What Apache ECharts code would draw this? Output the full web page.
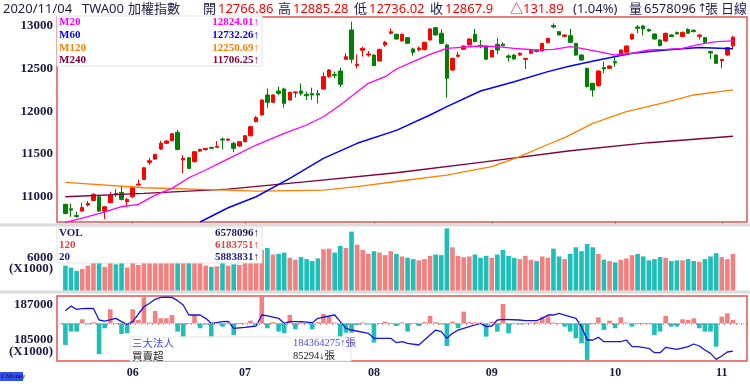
<!DOCTYPE html>
<html><head><meta charset="utf-8">
<script src="https://cdn.jsdelivr.net/npm/echarts@6/dist/echarts.min.js"></script>
<style>html,body{margin:0;padding:0;background:#fff}#c{width:750px;height:391px}</style>
</head><body><div id="c"></div>
<script>
// ---- data ----
const dates = [
'2020-05-14','2020-05-15','2020-05-18','2020-05-19','2020-05-20','2020-05-21','2020-05-22','2020-05-25','2020-05-26','2020-05-27','2020-05-28','2020-05-29',
'2020-06-01','2020-06-02','2020-06-03','2020-06-04','2020-06-05','2020-06-08','2020-06-09','2020-06-10','2020-06-11','2020-06-12','2020-06-15','2020-06-16','2020-06-17','2020-06-18','2020-06-19','2020-06-22','2020-06-23','2020-06-24','2020-06-29','2020-06-30',
'2020-07-01','2020-07-02','2020-07-03','2020-07-06','2020-07-07','2020-07-08','2020-07-09','2020-07-10','2020-07-13','2020-07-14','2020-07-15','2020-07-16','2020-07-17','2020-07-20','2020-07-21','2020-07-22','2020-07-23','2020-07-24','2020-07-27','2020-07-28','2020-07-29','2020-07-30','2020-07-31',
'2020-08-03','2020-08-04','2020-08-05','2020-08-06','2020-08-07','2020-08-10','2020-08-11','2020-08-12','2020-08-13','2020-08-14','2020-08-17','2020-08-18','2020-08-19','2020-08-20','2020-08-21','2020-08-24','2020-08-25','2020-08-26','2020-08-27','2020-08-28','2020-08-31',
'2020-09-01','2020-09-02','2020-09-03','2020-09-04','2020-09-07','2020-09-08','2020-09-09','2020-09-10','2020-09-11','2020-09-14','2020-09-15','2020-09-16','2020-09-17','2020-09-18','2020-09-21','2020-09-22','2020-09-23','2020-09-24','2020-09-25','2020-09-28','2020-09-29','2020-09-30',
'2020-10-05','2020-10-06','2020-10-07','2020-10-08','2020-10-12','2020-10-13','2020-10-14','2020-10-15','2020-10-16','2020-10-19','2020-10-20','2020-10-21','2020-10-22','2020-10-23','2020-10-26','2020-10-27','2020-10-28','2020-10-29','2020-10-30',
'2020-11-02','2020-11-03','2020-11-04'];
const opens = [10906,10855,10775,10828,10899,10953,10996,10828,10926,11036,11047,10938,10996,11133,11200,11399,11439,11556,11623,11654,11752,11427,11454,11407,11532,11548,11576,11576,11673,11660,
11623,11591,11642,11712,11877,11955,12190,12104,12237,12260,12131,12215,12237,12198,12206,12206,12260,12405,12432,12472,12609,12953,12534,12714,12659,12659,12589,12777,12914,12902,
12824,12863,12730,12720,12722,12836,12980,12914,12777,12483,12644,12726,12777,12902,12773,12765,12636,12785,12785,12648,12659,12659,12609,12679,12714,12706,12804,13004,12933,12878,
12886,12796,12659,12503,12327,12299,12511,12503,12581,12659,12691,12847,12988,13000,12957,12906,12836,12824,12894,12922,12875,12960,12949,12878,12863,12699,12659,12593,12659,12766.86];
const closes = [10801,10840,10765,10871,10918,11024,10828,10879,11012,11028,10965,10965,11106,11145,11337,11419,11493,11623,11650,11735,11552,11446,11329,11525,11552,11564,11564,11587,11662,11673,
11564,11642,11712,11818,11924,12131,12104,12190,12209,12092,12221,12225,12209,12182,12190,12190,12405,12483,12421,12315,12640,12609,12550,12738,12671,12534,12726,12808,12933,12847,
12902,12796,12691,12740,12808,12965,12894,12796,12386,12620,12659,12765,12847,12816,12757,12609,12714,12718,12769,12632,12612,12679,12620,12714,12699,12796,12855,12988,12894,12894,
12808,12659,12601,12288,12249,12472,12495,12530,12565,12718,12765,12902,12972,12965,12941,12847,12769,12914,12875,12906,12926,12914,12933,12894,12808,12683,12562,12609,12746,12867.9];
const lows = [10790,10762,10750,10820,10880,10945,10820,10734,10918,10996,10953,10879,10985,11125,11195,11370,11430,11545,11615,11650,11540,11270,11320,11400,11520,11540,11560,11570,11552,11650,
11517,11585,11635,11705,11869,11950,12041,12100,12190,12041,12125,12159,12182,12131,12131,12092,12249,12393,12386,12284,12601,12562,12503,12640,12640,12530,12585,12757,12902,12840,
12820,12790,12652,12700,12715,12830,12890,12790,12159,12475,12628,12718,12770,12808,12738,12601,12630,12667,12760,12581,12605,12650,12495,12670,12691,12700,12800,12972,12890,12870,
12800,12650,12595,12280,12170,12290,12444,12495,12522,12652,12685,12840,12914,12886,12930,12840,12760,12816,12870,12900,12870,12910,12925,12840,12800,12612,12555,12503,12650,12736.02];
const highs = [10915,10918,10820,10926,10945,11036,11005,10885,11055,11086,11114,10985,11125,11200,11345,11454,11500,11654,11660,11745,11779,11485,11460,11530,11560,11570,11580,11650,11693,11680,
11642,11650,11720,11825,11943,12140,12268,12198,12288,12276,12229,12237,12327,12229,12276,12249,12456,12495,12464,12511,12679,13051,12667,12757,12706,12665,12730,12824,12972,12910,
12910,12870,12746,12760,12815,12972,12985,12960,12790,12628,12699,12770,12855,12965,12836,12770,12720,12863,12808,12667,12665,12690,12625,12720,12726,12800,12860,13031,12940,12900,
12965,12800,12665,12510,12330,12478,12581,12540,12628,12722,12770,12910,13012,13012,12970,12910,12840,12920,12900,12935,12930,12972,12960,12900,12870,12710,12665,12612,12750,12885.28];
// volume (x1000 張)
const volumes = [4480,4130,3540,3890,4480,5310,6140,4250,4960,4720,5070,4130,5070,4600,6610,6140,5900,6250,5900,6490,
6610,5780,5070,5310,4960,4480,4250,4370,5070,4480,4720,4600,5070,5660,5900,7320,7670,6490,6610,6840,
5900,5550,6020,5660,5310,5780,7430,7550,6840,8020,7670,10620,8260,7320,6610,7080,6840,6370,7080,6610,
6140,5900,5660,5430,5660,6250,6490,6370,11200,7790,6250,6020,6140,6490,5900,6250,5900,6490,7320,6250,
5900,5660,6250,5550,5310,6140,5900,7550,6140,5660,6610,7790,7080,8380,7790,6610,5550,5310,5070,5550,
5780,6370,6610,6140,5430,5660,6020,5900,5310,5430,5430,5660,5310,5190,5660,6140,6730,6020,5660,6578];
// moving averages: [day number, value]
const ma20 = [[1,10695],[5,10762],[8,10820],[11,10879],[14,10906],[17,11016],[20,11094],[23,11219],[26,11310],[30,11440],[35,11603],[40,11740],[44,11838],[47,11935],[50,12072],[55,12327],[58,12405],[60,12495],[63,12581],[66,12667],[69,12738],[75,12765],[78,12757],[81,12738],[85,12718],[88,12726],[91,12757],[93,12738],[96,12699],[99,12659],[102,12679],[105,12718],[108,12726],[111,12738],[114,12785],[117,12816],[120,12824]];
const ma60 = [[25,10700],[30,10867],[35,10996],[41,11212],[47,11446],[53,11623],[60,11775],[66,11955],[69,12053],[75,12237],[81,12346],[87,12464],[91,12530],[96,12601],[102,12679],[108,12718],[114,12746],[120,12732]];
const ma120 = [[1,11165],[15,11102],[30,11075],[35,11063],[47,11075],[53,11114],[61,11184],[69,11251],[77,11349],[82,11466],[86,11583],[90,11690],[95,11857],[101,11994],[108,12104],[113,12190],[120,12251]];
const ma240 = [[1,10996],[15,11035],[30,11086],[45,11180],[60,11278],[75,11400],[91,11536],[105,11630],[120,11706]];
// 三大法人 (x1000 張): [day number, value]
const instHold = [[1,186676],[2,186943],[3,186752],[4,186790],[5,186800],[6,186800],[7,186143],[8,186080],[10,186238],[11,186050],[12,185895],[13,186047],[14,186485],[15,186900],[16,187100],[17,187324],[18,187438],[19,187450],[20,187438],[21,187247],[22,187000],[23,186428],[25,186428],[26,186238],[27,185952],[28,185990],[29,186047],[30,186060],[31,185666],[33,185723],[35,185800],[36,186428],[37,186380],[39,186238],[40,185952],[41,186047],[43,186047],[45,185990],[46,186238],[48,186371],[49,186428],[50,186047],[51,185666],[52,185571],[55,185380],[56,185095],[59,185095],[60,184847],[61,184904],[62,184809],[64,184714],[65,185000],[67,185571],[68,185476],[69,185095],[70,185380],[71,185571],[73,185761],[74,185857],[75,185952],[76,185761],[77,185800],[78,186143],[79,186181],[82,186143],[83,186105],[85,186105],[86,186238],[87,186428],[88,186428],[89,186524],[90,186428],[92,186238],[93,185761],[94,185000],[95,185000],[96,185152],[97,184904],[100,184904],[101,185000],[102,184619],[103,184619],[105,184524],[106,184276],[107,184276],[108,184580],[110,184466],[112,184619],[113,184771],[114,184657],[115,184428],[116,184238],[117,183895],[118,184086],[119,184314],[120,184364]];
// 買賣超 (張)
const netBuy = [-560000,-215000,-215000,103000,-26000,26000,-793000,-129000,362000,-17000,-276000,-258000,362000,86000,672000,20000,319000,129000,129000,215000,
-215000,-345000,-20000,215000,-129000,-30000,-345000,20000,-86000,15000,-302000,-20000,10000,69000,-40000,690000,-129000,30000,-215000,-258000,
215000,-155000,30000,-20000,-155000,30000,241000,172000,20000,-345000,-241000,-241000,-43000,20000,-30000,-500000,-20000,43000,-20000,-69000,
20000,-215000,-20000,-69000,30000,190000,30000,-30000,-586000,43000,-129000,302000,30000,20000,20000,-345000,43000,-215000,500000,-258000,
-20000,-30000,-20000,20000,30000,172000,190000,20000,-20000,-86000,-215000,-388000,-517000,-950000,-20000,155000,-172000,69000,-129000,155000,
20000,-86000,-20000,-20000,-20000,-302000,-215000,190000,-86000,-86000,103000,86000,129000,-129000,-215000,-215000,-603000,172000,258000,85294];
const priceTicks = [11000,11500,12000,12500,13000];
const volTicks = [6000];
const instTicks = [185000,187000];

// ---- build ----
const PAD_L = 1, PAD_R = 2;
const cats = [];
for (let i=0;i<PAD_L;i++) cats.push('');
dates.forEach(d=>cats.push(d));
for (let i=0;i<PAD_R;i++) cats.push('');
const pad = (arr, fill) => { const a=[]; for(let i=0;i<PAD_L;i++) a.push(fill); arr.forEach(v=>a.push(v)); for(let i=0;i<PAD_R;i++) a.push(fill); return a; };
const candle = pad(dates.map((d,i)=>[opens[i],closes[i],lows[i],highs[i]]), ['-','-','-','-']);
const UP='#FF0000', DN='#008000', UPB='#F47F7F', DNB='#1DBFB8';
const volData = pad(volumes.map((v,i)=>({value:v,itemStyle:{color: closes[i]>=opens[i]?UPB:DNB}})), '-');
const netData = pad(netBuy.map(v=>({value:v,itemStyle:{color: v>=0?UPB:DNB}})), '-');
const monthStart = (idx) => { const k = idx-PAD_L; if (k<=0 || k>=dates.length) return false; return dates[k].slice(5,7)!==dates[k-1].slice(5,7); };
const lab = {fontFamily:'Liberation Serif',fontWeight:'bold',fontSize:13,color:'#1a1a40',formatter:(v)=>String(v)};
const serif = "bold 13px 'Liberation Serif'";
const serifS = "bold 11px 'Liberation Serif'";
const sans = "13px 'Noto Sans','Noto Sans CJK TC'";
const navy = '#1c1c48';

const chart = echarts.init(document.getElementById('c'), null, {renderer:'canvas'});
const gridStyle = {show:true, borderColor:'#E05555', borderWidth:1.5, backgroundColor:'transparent'};
const hdr = [
  ['2020/11/04',3,navy],['TWA00',82,navy],['加權指數',128,navy],['開',203,navy],['12766.86',218,'#FF0000'],
  ['高',278,navy],['12885.28',293,'#FF0000'],['低',354,navy],['12736.02',369,'#FF0000'],['收',430,navy],['12867.9',445,'#FF0000'],
  ['△131.89',510,'#FF0000'],['(1.04%)',573,navy],['量',629,navy],['6578096',644,navy],['張',705,navy],['日線',721,navy]
];
const graphics = [];
hdr.forEach(h=>graphics.push({type:'text',x:h[1],y:9,z:100,style:{text:h[0],fill:h[2],font:sans,textVerticalAlign:'middle'}}));
graphics.push({type:'text',x:697,y:9,z:100,style:{text:'↑',fill:navy,font:"12px 'DejaVu Sans'",textVerticalAlign:'middle'}});
graphics.push({type:'rect',x:0,y:223.5,z:1,shape:{width:750,height:3},style:{fill:'#DCDCDC'}});
graphics.push({type:'rect',x:0,y:290.5,z:1,shape:{width:750,height:3},style:{fill:'#DCDCDC'}});
// main legend
graphics.push({type:'rect',x:57,y:16,z:90,shape:{width:205,height:50},style:{fill:'#fff',stroke:'#E4E4E4',lineWidth:1}});
[['M20','12824.01↑','#FF00FF',22],['M60','12732.26↑','#0000FF',35],['M120','12250.69↑','#FF8000',48],['M240','11706.25↑','#800040',60]].forEach(r=>{
  graphics.push({type:'text',x:59,y:r[3],z:100,style:{text:r[0],fill:r[2],font:serifS,textVerticalAlign:'middle'}});
  graphics.push({type:'text',x:259,y:r[3],z:100,style:{text:r[1],fill:r[2],font:serifS,textAlign:'right',textVerticalAlign:'middle'}});
});
// volume legend
graphics.push({type:'rect',x:57,y:227,z:90,shape:{width:205,height:36},style:{fill:'#fff',stroke:'#E4E4E4',lineWidth:1}});
[['VOL','6578096↑','#1c1c60',233],['120','6183751↑','#F03C3C',245],['20','5883831↑','#1c1c80',257]].forEach(r=>{
  graphics.push({type:'text',x:59,y:r[3],z:100,style:{text:r[0],fill:r[2],font:serifS,textVerticalAlign:'middle'}});
  graphics.push({type:'text',x:259,y:r[3],z:100,style:{text:r[1],fill:r[2],font:serifS,textAlign:'right',textVerticalAlign:'middle'}});
});
// inst legend
graphics.push({type:'rect',x:130,y:337,z:90,shape:{width:221,height:24},style:{fill:'#fff',stroke:'#E4E4E4',lineWidth:1}});
graphics.push({type:'text',x:132,y:343,z:100,style:{text:'三大法人',fill:'#4848F0',font:"10.5px 'Noto Sans CJK TC'",textVerticalAlign:'middle'}});
graphics.push({type:'text',x:293,y:343,z:100,style:{text:'184364275↑張',fill:'#4848F0',font:"10.5px 'Liberation Serif','Noto Sans CJK TC'",textVerticalAlign:'middle'}});
graphics.push({type:'text',x:132,y:356,z:100,style:{text:'買賣超',fill:'#202020',font:"10.5px 'Noto Sans CJK TC'",textVerticalAlign:'middle'}});
graphics.push({type:'text',x:293,y:356,z:100,style:{text:'85294↓張',fill:'#202020',font:"10.5px 'Liberation Serif','Noto Sans CJK TC'",textVerticalAlign:'middle'}});
// unit labels
graphics.push({type:'text',x:53,y:269,z:100,style:{text:'(X1000)',fill:'#1a1a40',font:serif,textAlign:'right',textVerticalAlign:'middle'}});
graphics.push({type:'text',x:53,y:352,z:100,style:{text:'(X1000)',fill:'#1a1a40',font:serif,textAlign:'right',textVerticalAlign:'middle'}});
graphics.push({type:'rect',x:0,y:372,z:90,shape:{width:23,height:9},style:{fill:'#3050F0'}});
graphics.push({type:'text',x:1,y:376.5,z:100,style:{text:'CMoney',fill:'#101040',font:"7px 'Liberation Serif'",textVerticalAlign:'middle'}});

const lineS = (name,data,color,w) => ({name,type:'line',xAxisIndex:0,yAxisIndex:0,data:data.map(p=>[p[0],p[1]]),symbol:'none',lineStyle:{color,width:w},z:3,clip:true,silent:true});

const option = {
  animation:false,
  backgroundColor:'#fff',
  grid:[
    Object.assign({left:57,right:3,top:17,height:205},gridStyle),
    {left:57,right:3,top:228,height:62.5,show:false},
    Object.assign({left:57,right:3,top:296,height:65},gridStyle)
  ],
  xAxis:[
    {type:'category',gridIndex:0,data:cats,boundaryGap:true,axisLine:{show:false},axisLabel:{show:false},
      axisTick:{show:true,interval:(i)=>monthStart(i),alignWithLabel:true,length:3,lineStyle:{color:'#707070'}}},
    {type:'category',gridIndex:1,data:cats,boundaryGap:true,axisLine:{show:false},axisLabel:{show:false},axisTick:{show:false}},
    {type:'category',gridIndex:2,data:cats,boundaryGap:true,axisLine:{show:false},
      axisTick:{show:true,interval:0,length:1.5,lineStyle:{color:'#E05555',width:1}},
      axisLabel:{show:true,interval:(i)=>monthStart(i),formatter:(v)=>v?v.slice(5,7):'',margin:6,fontFamily:'Liberation Serif',fontWeight:'bold',fontSize:12,color:'#1a1a40'}}
  ],
  yAxis:[
    {type:'value',gridIndex:0,min:10700,max:13105,splitLine:{show:false},axisLine:{show:false},axisTick:{show:false},
      axisLabel:Object.assign({customValues:priceTicks,margin:4},lab)},
    {type:'value',gridIndex:1,min:0,max:11270,splitLine:{show:false},axisLine:{show:false},axisTick:{show:false},
      axisLabel:Object.assign({customValues:volTicks,margin:4},lab)},
    {type:'value',gridIndex:2,min:183800,max:187514,splitLine:{show:false},axisLine:{show:false},axisTick:{show:false},
      axisLabel:Object.assign({customValues:instTicks,margin:4},lab)},
    {type:'value',gridIndex:2,min:-975000,max:705000,show:false,splitLine:{show:false}}
  ],
  series:[
    {type:'candlestick',xAxisIndex:0,yAxisIndex:0,data:candle,barWidth:4,z:2,
      itemStyle:{color:UP,color0:DN,borderColor:UP,borderColor0:DN,borderWidth:1}},
    lineS('M240',ma240,'#800040',1.3),
    lineS('M120',ma120,'#FF8000',1.3),
    lineS('M60',ma60,'#0000FF',1.5),
    lineS('M20',ma20,'#FF00FF',1.3),
    {type:'bar',xAxisIndex:1,yAxisIndex:1,data:volData,barCategoryGap:'18%'},
    {type:'bar',xAxisIndex:2,yAxisIndex:3,data:netData,barCategoryGap:'18%',
      markLine:{silent:true,symbol:'none',label:{show:false},lineStyle:{color:'#F0A0A0',type:'dotted',width:1},data:[{yAxis:0}]}},
    {type:'line',xAxisIndex:2,yAxisIndex:2,data:instHold.map(p=>[p[0],p[1]]),symbol:'none',lineStyle:{color:'#1515E0',width:1.3},z:4}
  ],
  graphic:graphics
};
chart.setOption(option);
</script></body></html>
